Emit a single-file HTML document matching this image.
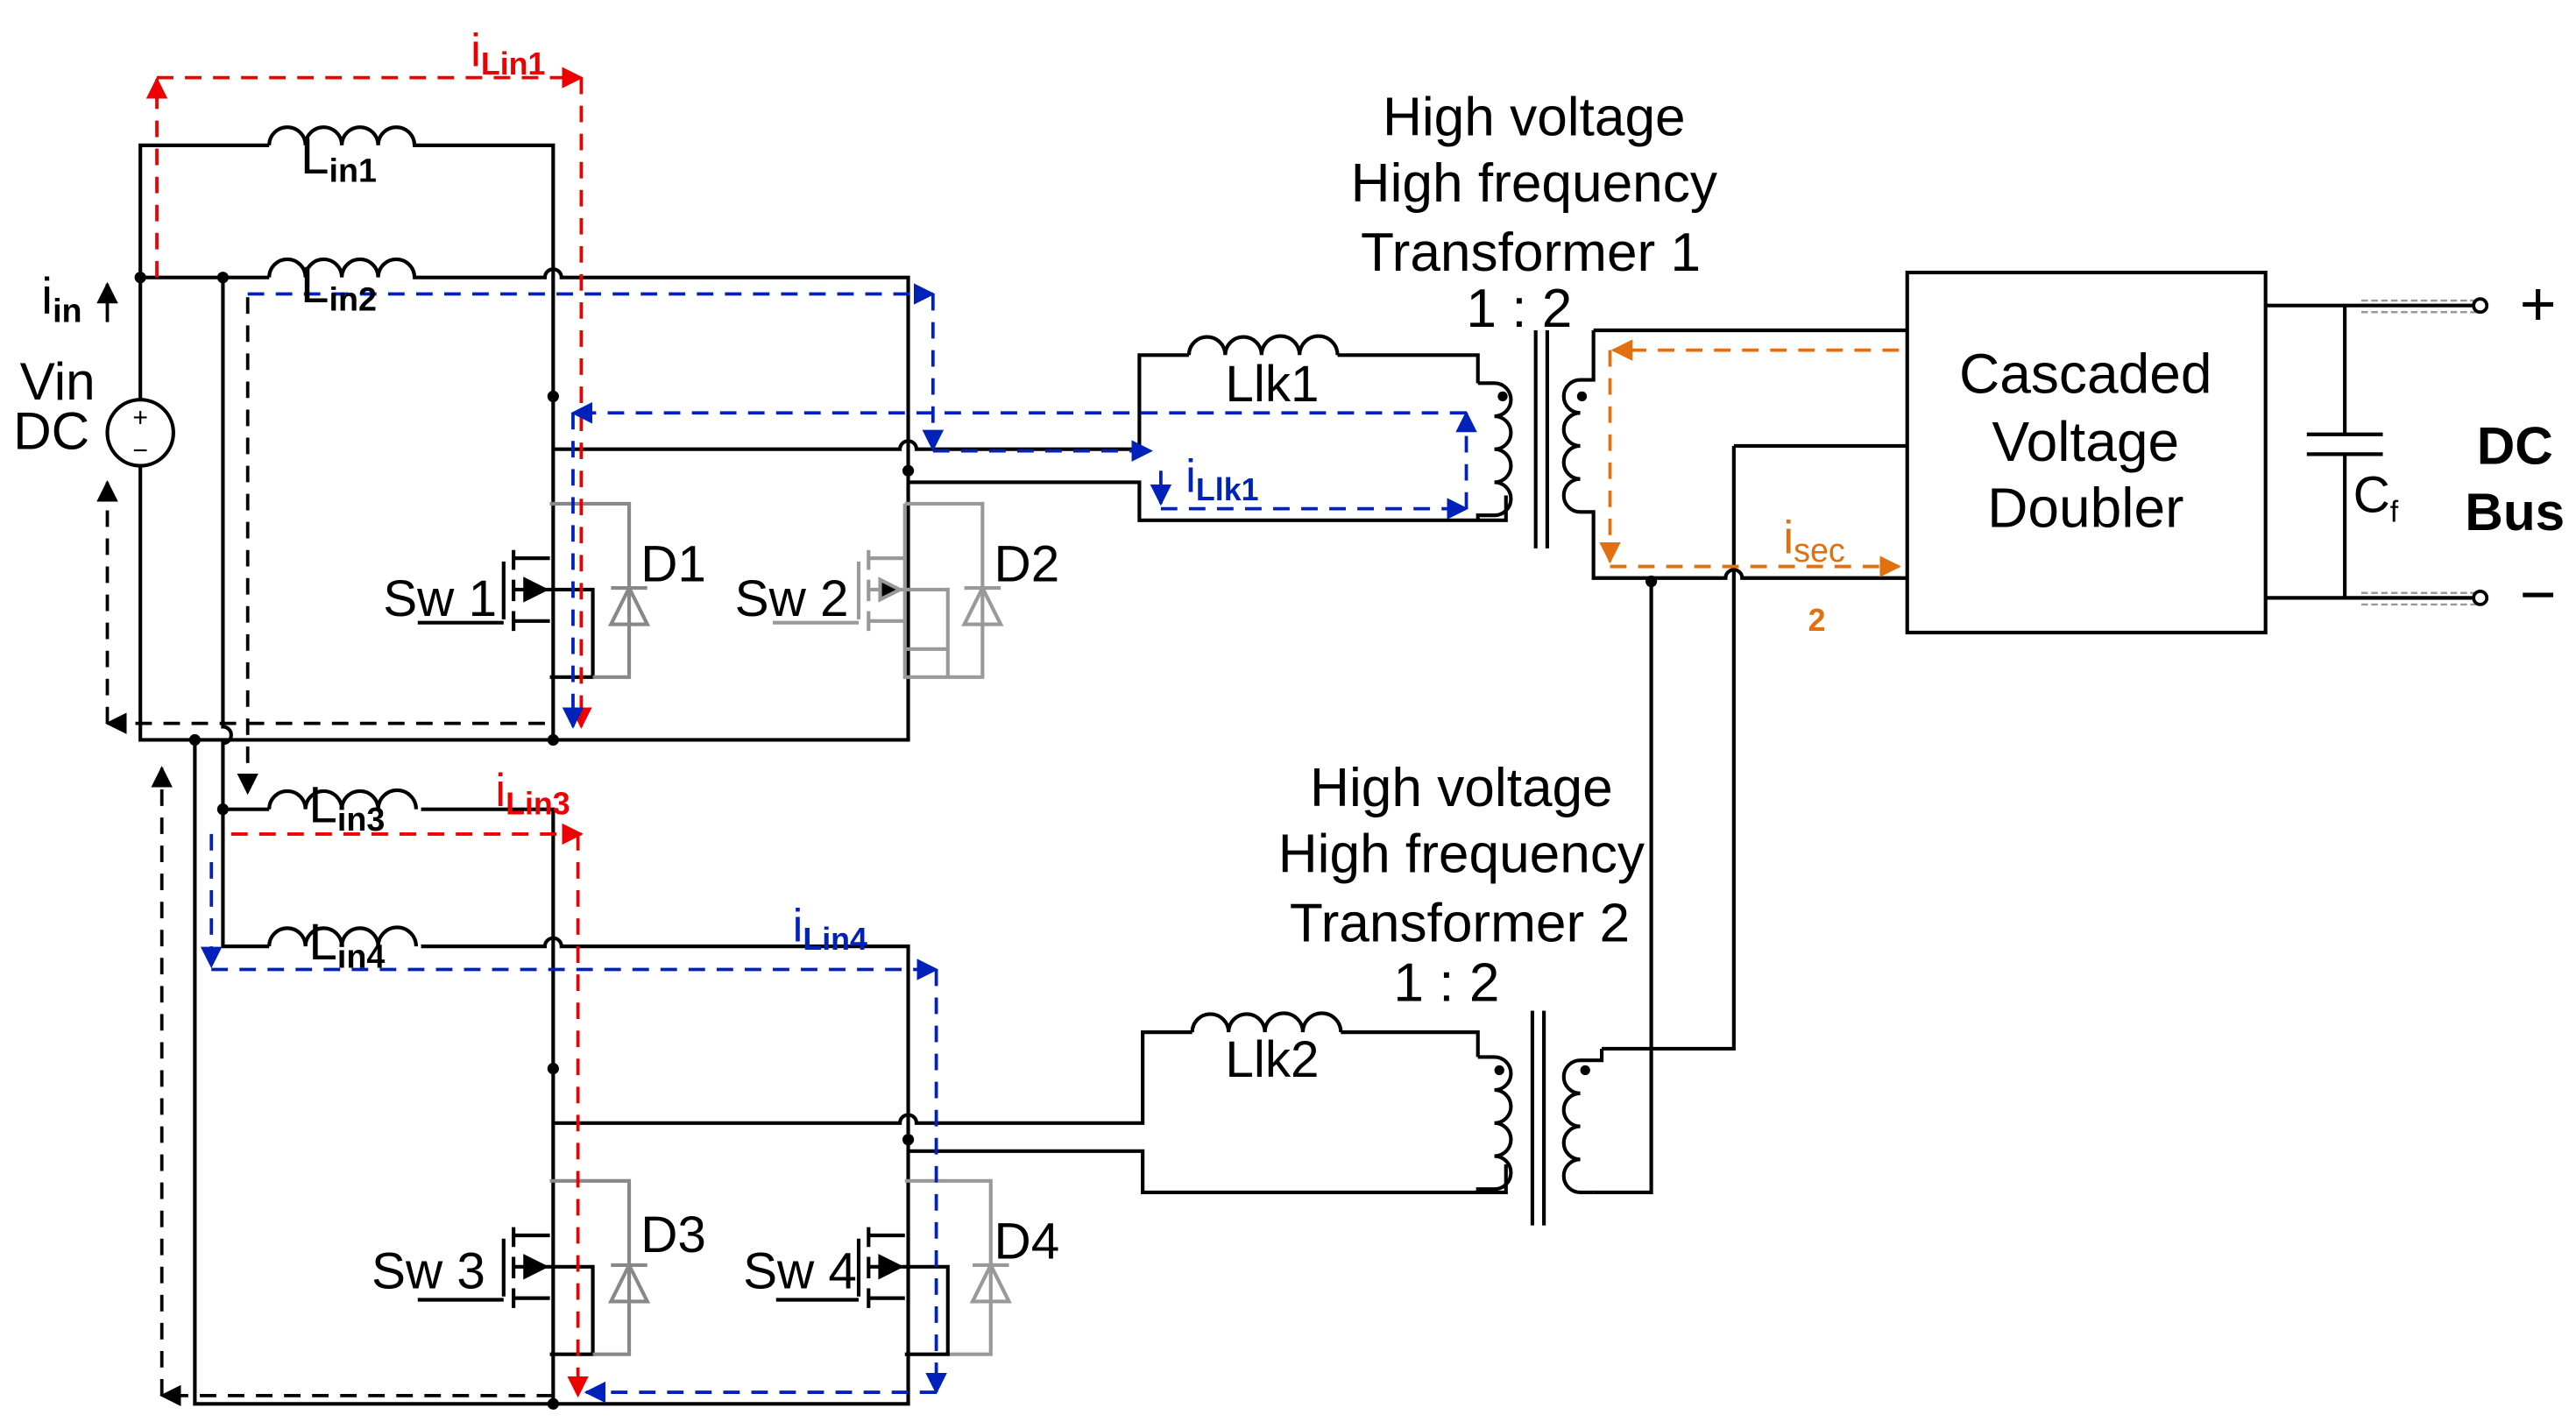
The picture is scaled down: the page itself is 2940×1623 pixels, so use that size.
<!DOCTYPE html>
<html><head><meta charset="utf-8"><style>
html,body{margin:0;padding:0;background:#fff;}
svg{display:block;}
text{font-family:"Liberation Sans",Arial,sans-serif;}
</style></head><body>
<svg width="2940" height="1623" viewBox="0 0 1560 861" preserveAspectRatio="none" xmlns="http://www.w3.org/2000/svg">
<defs>
<marker id="ar" viewBox="0 0 10 10" refX="9" refY="5" markerWidth="6.5" markerHeight="6.5" orient="auto-start-reverse"><path d="M0,0 L10,5 L0,10 z" fill="#e00"/></marker>
<marker id="ab" viewBox="0 0 10 10" refX="9" refY="5" markerWidth="6.5" markerHeight="6.5" orient="auto-start-reverse"><path d="M0,0 L10,5 L0,10 z" fill="#0022bb"/></marker>
<marker id="ak" viewBox="0 0 10 10" refX="9" refY="5" markerWidth="6.5" markerHeight="6.5" orient="auto-start-reverse"><path d="M0,0 L10,5 L0,10 z" fill="#000"/></marker>
<marker id="ao" viewBox="0 0 10 10" refX="9" refY="5" markerWidth="6.5" markerHeight="6.5" orient="auto-start-reverse"><path d="M0,0 L10,5 L0,10 z" fill="#e07010"/></marker>
</defs>
<g fill="none" stroke="#000" stroke-width="2.2">
<path d="M85,168 V88 H163 M250,88 H335 V448 H85 V168"/>
<path d="M163,88 a11,11 0 0 1 22,0 a11,11 0 0 1 22,0 a11,11 0 0 1 22,0 a11,11 0 0 1 22,0"/>
<path d="M85,168 H163 M250,168 H330 a5,5 0 0 1 10,0 H550 V448 H335"/>
<path d="M163,168 a11,11 0 0 1 22,0 a11,11 0 0 1 22,0 a11,11 0 0 1 22,0 a11,11 0 0 1 22,0"/>
<path d="M135,168 V440 a5,5 0 0 1 0,10 V490 H163 M255,490 H335 V850 M135,490 V573 H163 M255,573 H330 a5,5 0 0 1 10,0 H550 V850 H118 V448"/>
<path d="M163,490 a11,11 0 0 1 22,0 a11,11 0 0 1 22,0 a11,11 0 0 1 22,0 a11,11 0 0 1 23,0"/>
<path d="M163,573 a11,11 0 0 1 22,0 a11,11 0 0 1 22,0 a11,11 0 0 1 22,0 a11,11 0 0 1 23,0"/>
<path d="M335,272 H545 a5,5 0 0 1 10,0 H690 V215 H720 M810,215 H895 V232 M550,292 H690 V315 H912 V300"/>
<path d="M720,215 a11,11 0 0 1 22,0 a11,11 0 0 1 22,0 a11,11 0 0 1 23,0 a11,11 0 0 1 23,0"/>
<path d="M895,232 H905 a10,10 0 0 1 0,20 a10,10 0 0 1 0,20 a10,10 0 0 1 0,20 a10,10 0 0 1 0,20 h-10 V315"/>
<path d="M930,200 V332 M937,200 V332"/>
<path d="M965,200 H1155 M965,200 V230 H957 a10,10 0 0 0 0,20 a10,10 0 0 0 0,20 a10,10 0 0 0 0,20 a10,10 0 0 0 0,20 h8 V350 H1045 a5,5 0 0 1 10,0 H1155"/>
<path d="M1050,270 H1155 M1050,270 V635 H970 M1000,350 V722 H965"/>
<rect x="1155" y="165" width="217" height="218"/>
<path d="M1372,185 H1498 M1372,362 H1498 M1420,185 V263 M1397,263 H1443 M1397,275 H1443 M1420,275 V362"/>
<path d="M335,680 H545 a5,5 0 0 1 10,0 H692 V625 H722 M812,625 H895 V640 M550,697 H692 V722 H912 V705"/>
<path d="M722,625 a11,11 0 0 1 22,0 a11,11 0 0 1 22,0 a11,11 0 0 1 23,0 a11,11 0 0 1 23,0"/>
<path d="M895,640 H905 a10,10 0 0 1 0,20 a10,10 0 0 1 0,20 a10,10 0 0 1 0,20 a10,10 0 0 1 0,20 h-10 V722"/>
<path d="M928,612 V742 M935,612 V742"/>
<path d="M970,635 V642 H957 a10,10 0 0 0 0,20 a10,10 0 0 0 0,20 a10,10 0 0 0 0,20 a10,10 0 0 0 0,20 h8 V722"/>
<circle cx="85" cy="262" r="20" fill="#fff"/>
</g>
<g fill="none" stroke="#999" stroke-width="1.3" stroke-dasharray="4,2">
<path d="M1430,182 H1500 M1430,189 H1500 M1430,359 H1500 M1430,366 H1500"/>
</g>
<circle cx="1502" cy="185" r="4" fill="#fff" stroke="#000" stroke-width="2"/>
<circle cx="1502" cy="362" r="4" fill="#fff" stroke="#000" stroke-width="2"/>
<g fill="#000">
<circle cx="85" cy="168" r="3.5"/><circle cx="135" cy="168" r="3.5"/><circle cx="335" cy="240" r="3.5"/>
<circle cx="550" cy="285" r="3.5"/><circle cx="135" cy="490" r="3.5"/><circle cx="335" cy="647" r="3.5"/>
<circle cx="550" cy="690" r="3.5"/><circle cx="335" cy="850" r="3.5"/><circle cx="335" cy="448" r="3.5"/>
<circle cx="118" cy="448" r="3.5"/><circle cx="1000" cy="352" r="3.5"/>
<circle cx="910" cy="240" r="3"/><circle cx="958" cy="240" r="3"/>
<circle cx="908" cy="648" r="3"/><circle cx="960" cy="648" r="3"/>
</g>
<g id="sw1" stroke="#000" stroke-width="2.2" fill="none">
<path d="M253,377 H305 M305,340 V375 M311,333 V345 M311,351 V364 M311,370 V382 M311,338 H333 M311,376 H333 M311,357 H359 V410 H333"/>
<path d="M333,305 H381 V410 H359" stroke="#888"/>
<path d="M370,356 H392 M381,356 L370,378 H392 Z" stroke="#888"/>
<path d="M318,351 L330,357 L318,363 Z" fill="#000"/>
</g>
<g stroke="#999" stroke-width="2.2" fill="none">
<path d="M468,377 H520 M520,340 V375 M526,333 V345 M526,351 V364 M526,370 V382 M526,338 H548 M526,376 H548 M526,357 H574 V410 M548,393 H574 M548,305 V410 H595 V305 H548"/>
<path d="M584,356 H606 M595,356 L584,378 H606 Z"/>
<path d="M533,351 L545,357 L533,363 Z" fill="#000"/>
</g>
<use href="#sw1" transform="translate(0,410)"/>
<g stroke="#999" stroke-width="2.2" fill="none" transform="translate(0,410)">
<path d="M548,305 H600 V410 H574"/>
<path d="M589,356 H611 M600,356 L589,378 H611 Z"/>
</g>
<g stroke="#000" stroke-width="2.2" fill="none" transform="translate(0,410)">
<path d="M470,377 H520 M520,340 V375 M526,333 V345 M526,351 V364 M526,370 V382 M526,338 H548 M526,376 H548 M526,357 H574 V410 H548"/>
<path d="M533,351 L545,357 L533,363 Z" fill="#000"/>
</g>
<g fill="none" stroke-width="2" stroke-dasharray="10,7">
<path d="M95,168 V48" stroke="#e00" marker-end="url(#ar)"/>
<path d="M95,47 H352" stroke="#e00" marker-end="url(#ar)"/>
<path d="M352,47 V440" stroke="#e00" marker-end="url(#ar)"/>
<path d="M150,178 H565" stroke="#0022bb" marker-end="url(#ab)"/>
<path d="M565,178 V272" stroke="#0022bb" marker-end="url(#ab)"/>
<path d="M565,273 H697" stroke="#0022bb" marker-end="url(#ab)"/>
<path d="M888,250 H347" stroke="#0022bb" marker-end="url(#ab)"/>
<path d="M347,250 V440" stroke="#0022bb" marker-end="url(#ab)"/>
<path d="M703,285 V305" stroke="#0022bb" marker-end="url(#ab)"/>
<path d="M703,308 H888" stroke="#0022bb" marker-end="url(#ab)"/>
<path d="M888,308 V250" stroke="#0022bb" marker-end="url(#ab)"/>
<path d="M150,180 V480" stroke="#000" marker-end="url(#ak)"/>
<path d="M330,438 H65" stroke="#000" marker-end="url(#ak)"/>
<path d="M65,438 V292" stroke="#000" marker-end="url(#ak)"/>
<path d="M140,505 H352" stroke="#e00" marker-end="url(#ar)"/>
<path d="M350,505 V845" stroke="#e00" marker-end="url(#ar)"/>
<path d="M128,505 V585" stroke="#0022bb" marker-end="url(#ab)"/>
<path d="M128,587 H567" stroke="#0022bb" marker-end="url(#ab)"/>
<path d="M567,587 V843" stroke="#0022bb" marker-end="url(#ab)"/>
<path d="M567,843 H355" stroke="#0022bb" marker-end="url(#ab)"/>
<path d="M335,845 H98" stroke="#000" marker-end="url(#ak)"/>
<path d="M98,845 V465" stroke="#000" marker-end="url(#ak)"/>
<path d="M1150,212 H977" stroke="#e07010" marker-end="url(#ao)"/>
<path d="M975,212 V340" stroke="#e07010" marker-end="url(#ao)"/>
<path d="M975,343 H1150" stroke="#e07010" marker-end="url(#ao)"/>
</g>
<path d="M65,195 V172" stroke="#000" stroke-width="2" marker-end="url(#ak)"/>
<g font-size="31" fill="#000">
<text x="85" y="258" font-size="16" text-anchor="middle">+</text>
<text x="85" y="278" font-size="16" text-anchor="middle">−</text>
<text x="12" y="242" font-size="32">Vin</text><text x="8" y="272" font-size="32">DC</text>
<text x="25" y="190">i<tspan font-size="20" font-weight="bold" dy="5">in</tspan></text>
<text x="182" y="105">L<tspan font-size="20" font-weight="bold" dy="5">in1</tspan></text>
<text x="182" y="183">L<tspan font-size="20" font-weight="bold" dy="5">in2</tspan></text>
<text x="187" y="498">L<tspan font-size="20" font-weight="bold" dy="5">in3</tspan></text>
<text x="187" y="581">L<tspan font-size="20" font-weight="bold" dy="5">in4</tspan></text>
<text x="232" y="373">Sw 1</text><text x="445" y="373">Sw 2</text>
<text x="225" y="780">Sw 3</text><text x="450" y="780">Sw 4</text>
<text x="388" y="352">D1</text><text x="602" y="352">D2</text>
<text x="388" y="758">D3</text><text x="602" y="762">D4</text>
<text x="742" y="243">Llk1</text><text x="742" y="652">Llk2</text>
<g font-size="33">
<text x="929" y="82" text-anchor="middle">High voltage</text>
<text x="929" y="122" text-anchor="middle">High frequency</text>
<text x="927" y="164" text-anchor="middle">Transformer 1</text>
<text x="920" y="198" text-anchor="middle">1 : 2</text>
<text x="885" y="488" text-anchor="middle">High voltage</text>
<text x="885" y="528" text-anchor="middle">High frequency</text>
<text x="884" y="570" text-anchor="middle">Transformer 2</text>
<text x="876" y="606" text-anchor="middle">1 : 2</text>
<text x="1263" y="238" text-anchor="middle" font-size="34">Cascaded</text>
<text x="1263" y="279" text-anchor="middle" font-size="34">Voltage</text>
<text x="1263" y="319" text-anchor="middle" font-size="34">Doubler</text>
</g>
<text x="1425" y="310">C<tspan font-size="18" dy="6">f</tspan></text>
<text x="1523" y="281" text-anchor="middle" font-weight="bold" font-size="32">DC</text>
<text x="1523" y="321" text-anchor="middle" font-weight="bold" font-size="32">Bus</text>
<text x="1537" y="197" text-anchor="middle" font-size="38">+</text>
<text x="1537" y="373" text-anchor="middle" font-size="38">−</text>
</g>
<g font-size="28">
<text x="285" y="40" fill="#e00">i<tspan font-size="19" font-weight="bold" dy="5">Lin1</tspan></text>
<text x="300" y="488" fill="#e00">i<tspan font-size="19" font-weight="bold" dy="5">Lin3</tspan></text>
<text x="480" y="570" fill="#0022bb">i<tspan font-size="19" font-weight="bold" dy="5">Lin4</tspan></text>
<text x="718" y="298" fill="#0022bb">i<tspan font-size="19" font-weight="bold" dy="5">Llk1</tspan></text>
<text x="1080" y="335" fill="#e07010">i<tspan font-size="20" dy="5">sec</tspan></text>
<text x="1095" y="382" fill="#e07010" font-size="19" font-weight="bold">2</text>
</g>
</svg>
</body></html>
